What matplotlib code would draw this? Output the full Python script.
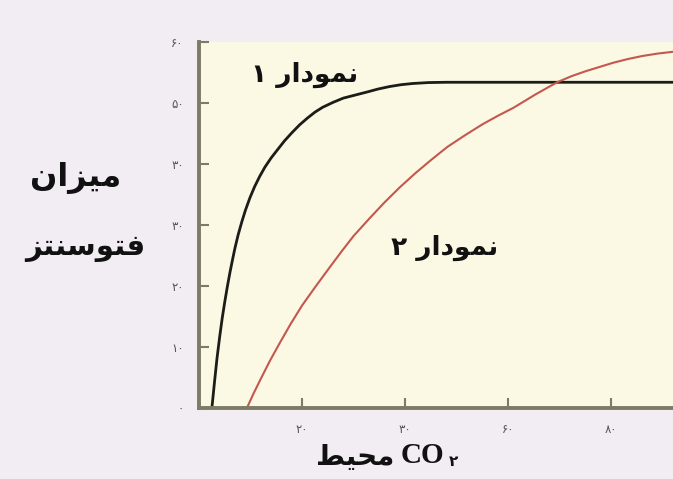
import numpy as np
import matplotlib.pyplot as plt

# Values (x = ambient CO2, y = photosynthesis rate)
curve1_x = [2.5, 3.0, 3.5, 4.0, 4.5, 5.0, 5.5, 6.0, 6.5, 7.0, 7.6, 8.3, 9.0,
            9.9, 10.8, 11.8, 12.8, 14.0, 15.2, 16.6, 18.0, 19.5, 21.0, 22.5,
            24.0, 26.0, 28.0, 30.3, 32.6, 34.8, 37.0, 39.2, 41.5, 44.5, 48.0,
            60.0, 92.0]
curve1_y = [0.0, 4.2, 8.2, 11.6, 14.7, 17.4, 19.9, 22.2, 24.3, 26.3, 28.4,
            30.5, 32.4, 34.5, 36.3, 38.0, 39.5, 41.0, 42.3, 43.8, 45.1, 46.4,
            47.5, 48.5, 49.3, 50.1, 50.8, 51.3, 51.8, 52.3, 52.7, 53.0, 53.2,
            53.35, 53.4, 53.4, 53.4]

curve2_x = [9.3, 10.6, 12.0, 13.8, 15.7, 17.8, 20.0, 22.7, 25.4, 27.7, 30.0,
            33.0, 36.0, 39.0, 42.0, 45.1, 48.2, 51.6, 55.0, 58.0, 61.0, 65.3,
            69.5, 72.3, 75.0, 77.7, 80.4, 83.2, 86.0, 89.0, 92.0]
curve2_y = [0.0, 2.4, 4.8, 7.8, 10.7, 13.8, 16.8, 20.0, 23.1, 25.7, 28.2,
            31.0, 33.7, 36.2, 38.5, 40.7, 42.8, 44.7, 46.5, 47.9, 49.2, 51.4,
            53.4, 54.4, 55.2, 55.9, 56.6, 57.2, 57.7, 58.1, 58.4]

x_ticks = [20, 40, 60, 80]
x_ticklabels = ['۲۰', '۳۰', '۶۰', '۸۰']
y_ticks = [0, 10, 20, 30, 40, 50, 60]
y_ticklabels = ['۰', '۱۰', '۲۰', '۳۰', '۳۰', '۵۰', '۶۰']

# matplotlib has no Arabic shaping, so pick presentation forms by hand
FORMS = {  # isolated, final, initial, medial
    'م': '\ufee1\ufee2\ufee3\ufee4',
    'ی': '\ufbfc\ufbfd\ufef3\ufef4',
    'ز': '\ufeaf\ufeb0',
    'ا': '\ufe8d\ufe8e',
    'ن': '\ufee5\ufee6\ufee7\ufee8',
    'ف': '\ufed1\ufed2\ufed3\ufed4',
    'ت': '\ufe95\ufe96\ufe97\ufe98',
    'و': '\ufeed\ufeee',
    'س': '\ufeb1\ufeb2\ufeb3\ufeb4',
    'د': '\ufea9\ufeaa',
    'ر': '\ufead\ufeae',
    'ح': '\ufea1\ufea2\ufea3\ufea4',
    'ط': '\ufec1\ufec2\ufec3\ufec4',
}


def shape(word):
    out = []
    for i, ch in enumerate(word):
        f = FORMS[ch]
        prev_joins = i > 0 and len(FORMS[word[i - 1]]) == 4
        next_joins = i < len(word) - 1 and len(f) == 4
        if prev_joins and next_joins:
            out.append(f[3])
        elif prev_joins:
            out.append(f[1])
        elif next_joins:
            out.append(f[2])
        else:
            out.append(f[0])
    return ''.join(reversed(out))


fig = plt.figure(figsize=(6.73, 4.79), dpi=100, facecolor='#f1edf3')
ax = fig.add_axes([0.2957, 0.1482, 0.7043, 0.7641])
ax.set_facecolor('#fbf8e4')

ax.plot(curve1_x, curve1_y, color='#1c1c18', lw=2.0, solid_capstyle='butt')
ax.plot(curve2_x, curve2_y, color='#c4574e', lw=1.5, solid_capstyle='butt')

ax.set_xlim(0, 92)
ax.set_ylim(0, 60)
ax.set_xticks(x_ticks)
ax.set_xticklabels(x_ticklabels)
ax.set_yticks(y_ticks)
ax.set_yticklabels(y_ticklabels)
ax.tick_params(direction='in', length=7, width=1.5, color='#7d7a66',
               labelsize=8.5, labelcolor='#555550', pad=11)

for s in ['top', 'right']:
    ax.spines[s].set_visible(False)
for s in ['left', 'bottom']:
    ax.spines[s].set_color('#7d7a66')
    ax.spines[s].set_linewidth(2.8)

ax.text(20.4, 54.6, '۱ ' + shape('نمودار'), fontsize=19, fontweight='bold',
        ha='center', va='center', color='#111111')
ax.text(47.6, 26.2, '۲ ' + shape('نمودار'), fontsize=19, fontweight='bold',
        ha='center', va='center', color='#111111')

fig.text(0.112, 0.628, shape('میزان'), fontsize=23, fontweight='bold',
         ha='center', va='center', color='#111111')
fig.text(0.127, 0.482, shape('فتوسنتز'), fontsize=21, fontweight='bold',
         ha='center', va='center', color='#111111')

fig.text(0.528, 0.045, shape('محیط'), fontsize=20, fontweight='bold',
         ha='center', va='center', color='#111111')
fig.text(0.596, 0.050, 'CO', fontsize=21, fontweight='bold',
         ha='left', va='center', color='#111111', family='Liberation Serif')
fig.text(0.667, 0.036, '۲', fontsize=11, fontweight='bold',
         ha='left', va='center', color='#111111')

fig.savefig('out.png', dpi=100, facecolor=fig.get_facecolor())
